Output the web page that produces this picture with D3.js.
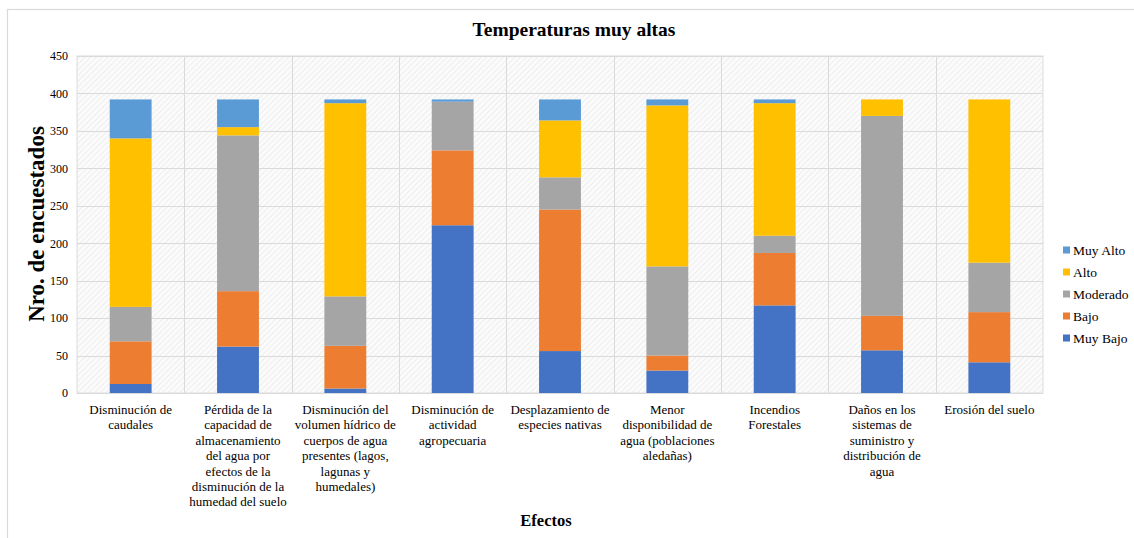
<!DOCTYPE html>
<html>
<head>
<meta charset="utf-8">
<script src="https://cdn.jsdelivr.net/npm/d3@7"></script>
<style>
  html, body { margin: 0; padding: 0; background: #fff; }
  svg { display: block; }
  svg text { font-family: "Liberation Serif", "Times New Roman", serif !important; fill: #000; }
</style>
</head>
<body>
<svg id="chart" width="1134" height="538"></svg>
<script>
// Effects surveyed (x-axis categories), each label pre-split into lines
const categories = [
  "Disminución de caudales",
  "Pérdida de la capacidad de almacenamiento del agua por efectos de la disminución de la humedad del suelo",
  "Disminución del volumen hídrico de cuerpos de agua presentes (lagos, lagunas y humedales)",
  "Disminución de actividad agropecuaria",
  "Desplazamiento de especies nativas",
  "Menor disponibilidad de agua (poblaciones aledañas)",
  "Incendios Forestales",
  "Daños en los sistemas de suministro y distribución de agua",
  "Erosión del suelo"
];
const categoryLines = [
  ["Disminución de", "caudales"],
  ["Pérdida de la", "capacidad de", "almacenamiento", "del agua por", "efectos de la", "disminución de la", "humedad del suelo"],
  ["Disminución del", "volumen hídrico de", "cuerpos de agua", "presentes (lagos,", "lagunas y", "humedales)"],
  ["Disminución de", "actividad", "agropecuaria"],
  ["Desplazamiento de", "especies nativas"],
  ["Menor", "disponibilidad de", "agua (poblaciones", "aledañas)"],
  ["Incendios", "Forestales"],
  ["Daños en los", "sistemas de", "suministro y", "distribución de", "agua"],
  ["Erosión del suelo"]
];

// Number of respondents per level (stacked bottom to top)
const muyBajo  = [12, 62,   6, 224,  56,  30, 117,  57,  41];
const bajo     = [57, 74,  57, 100, 189,  20,  70,  46,  67];
const moderado = [46, 208, 66,  65,  43, 119,  23, 267,  66];
const alto     = [225, 11, 258,  0,  76, 215, 177,  22, 218];
const muyAlto  = [52, 37,   5,   3,  28,   8,   5,   0,   0];

const seriesNames = ["Muy Bajo", "Bajo", "Moderado", "Alto", "Muy Alto"];
const seriesValues = [muyBajo, bajo, moderado, alto, muyAlto];
const seriesColors = ["#4472C4", "#ED7D31", "#A5A5A5", "#FFC000", "#5B9BD5"];
const legendOrder = ["Muy Alto", "Alto", "Moderado", "Bajo", "Muy Bajo"];

const yTicks = [0, 50, 100, 150, 200, 250, 300, 350, 400, 450];

const rows = categories.map((c, i) => {
  const r = { category: c };
  seriesNames.forEach((s, k) => { r[s] = seriesValues[k][i]; });
  return r;
});

const SERIF = '"Liberation Serif", "Times New Roman", serif';
const svg = d3.select("#chart");
const W = 1134, H = 538;
const plot = { left: 77, right: 1043, top: 56, bottom: 393 };

// outer chart frame
svg.append("rect")
  .attr("x", 7.5).attr("y", 9.5)
  .attr("width", W + 20).attr("height", H + 20)
  .attr("fill", "#fff").attr("stroke", "#d9d9d9").attr("stroke-width", 1.2);

// hatched plot background
const defs = svg.append("defs");
const pat = defs.append("pattern")
  .attr("id", "hatch").attr("patternUnits", "userSpaceOnUse")
  .attr("width", 4).attr("height", 4)
  .attr("patternTransform", "rotate(45)");
pat.append("rect").attr("width", 4).attr("height", 4).attr("fill", "#fbfbfb");
pat.append("line").attr("x1", 0).attr("y1", 0).attr("x2", 0).attr("y2", 4)
  .attr("stroke", "#e9e9e9").attr("stroke-width", 1.4);

const x = d3.scaleBand()
  .domain(categories)
  .range([plot.left, plot.right])
  .paddingInner(0.61)
  .paddingOuter(0.305);

const y = d3.scaleLinear()
  .domain([0, 450])
  .range([plot.bottom, plot.top]);

const color = d3.scaleOrdinal().domain(seriesNames).range(seriesColors);

svg.append("rect")
  .attr("x", plot.left).attr("y", plot.top)
  .attr("width", plot.right - plot.left).attr("height", plot.bottom - plot.top)
  .attr("fill", "url(#hatch)")
  .attr("stroke", "#dcdcdc");

// horizontal gridlines
svg.append("g")
  .selectAll("line")
  .data(yTicks)
  .join("line")
  .attr("x1", plot.left).attr("x2", plot.right)
  .attr("y1", d => Math.round(y(d)) + 0.5).attr("y2", d => Math.round(y(d)) + 0.5)
  .attr("stroke", "#dadada").attr("stroke-width", 1);

// vertical separators between categories
const step = x.step();
svg.append("g")
  .selectAll("line")
  .data(d3.range(1, categories.length))
  .join("line")
  .attr("x1", i => Math.round(plot.left + i * step) + 0.5)
  .attr("x2", i => Math.round(plot.left + i * step) + 0.5)
  .attr("y1", plot.top).attr("y2", plot.bottom)
  .attr("stroke", "#dadada").attr("stroke-width", 1);

// stacked bars
const stacked = d3.stack().keys(seriesNames)(rows);
svg.append("g")
  .selectAll("g")
  .data(stacked)
  .join("g")
  .attr("fill", d => color(d.key))
  .selectAll("rect")
  .data(d => d)
  .join("rect")
  .attr("x", d => x(d.data.category))
  .attr("width", x.bandwidth())
  .attr("y", d => y(d[1]))
  .attr("height", d => Math.max(0, y(d[0]) - y(d[1])));

// y axis labels
const yAxis = d3.axisLeft(y).tickValues(yTicks).tickSize(0).tickPadding(9);
const gy = svg.append("g")
  .attr("transform", `translate(${plot.left},0)`)
  .call(yAxis)
  .attr("font-family", SERIF)
  .style("font-family", SERIF);
gy.select(".domain").remove();
gy.selectAll("text")
  .style("font-family", SERIF)
  .attr("font-size", 12)
  .attr("fill", "#222");

// x axis labels (multi-line)
const xAxis = d3.axisBottom(x).tickSize(0).tickFormat(() => "");
const gx = svg.append("g")
  .attr("transform", `translate(0,${plot.bottom})`)
  .call(xAxis)
  .attr("font-family", SERIF)
  .style("font-family", SERIF);
gx.select(".domain").remove();
gx.selectAll(".tick").each(function(d, i) {
  const t = d3.select(this).append("text")
    .attr("text-anchor", "middle")
    .style("font-family", SERIF)
    .attr("font-size", 13)
    .attr("fill", "#111")
    .attr("y", 21);
  categoryLines[i].forEach((line, k) => {
    t.append("tspan").attr("x", 0).attr("dy", k === 0 ? 0 : 15.4).text(line);
  });
});

// title
svg.append("text")
  .attr("x", 574).attr("y", 36)
  .attr("text-anchor", "middle")
  .attr("font-weight", "bold")
  .attr("font-size", 19.5)
  .text("Temperaturas muy altas");

// axis titles
svg.append("text")
  .attr("transform", "translate(44,224) rotate(-90)")
  .attr("text-anchor", "middle")
  .attr("font-weight", "bold")
  .attr("font-size", 23)
  .text("Nro. de encuestados");

svg.append("text")
  .attr("x", 546).attr("y", 526)
  .attr("text-anchor", "middle")
  .attr("font-weight", "bold")
  .attr("font-size", 16.5)
  .text("Efectos");

// legend
const legend = svg.append("g")
  .selectAll("g")
  .data(legendOrder)
  .join("g")
  .attr("transform", (d, i) => `translate(1063,${250 + i * 22})`);
legend.append("rect")
  .attr("x", 0).attr("y", -3.5)
  .attr("width", 7).attr("height", 7)
  .attr("fill", d => color(d));
legend.append("text")
  .attr("x", 10).attr("y", 4.5)
  .attr("font-size", 13.5)
  .text(d => d);
</script>
</body>
</html>
